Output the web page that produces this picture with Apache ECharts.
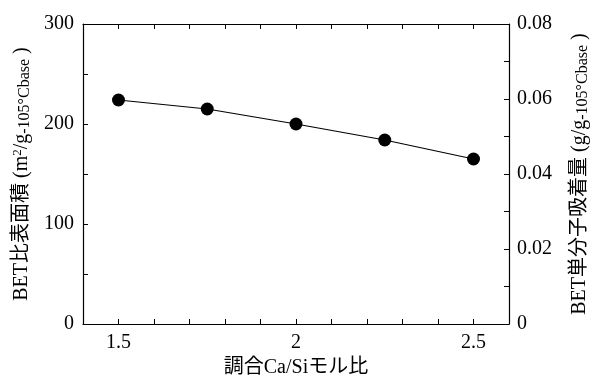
<!DOCTYPE html>
<html><head><meta charset="utf-8">
<script src="https://cdn.jsdelivr.net/npm/echarts@6/dist/echarts.min.js"></script>
<style>html,body{margin:0;padding:0;background:#fff}#c{width:598px;height:383px}</style>
</head><body><div id="c"></div>
<script>
var caSiRatio = [1.5, 1.75, 2.0, 2.25, 2.5];
var betSurface = [224, 215, 200, 184, 165];
var xLabels = [1.5, 2, 2.5];
var serif = '"Liberation Serif", "Times New Roman", "Noto Sans CJK JP", serif';
var chart = echarts.init(document.getElementById('c'));
var tickStyle = {show: true, inside: true, length: 5, lineStyle: {color: '#000', width: 1}};
var axLine = {show: true, onZero: false, lineStyle: {color: '#000', width: 1.2}};
function xFmt(v) {
  for (var i = 0; i < xLabels.length; i++) if (Math.abs(v - xLabels[i]) < 1e-6) return String(xLabels[i]);
  return '';
}
var richName = {
  a: {fontFamily: serif, fontSize: 20, color: '#000', lineHeight: 22},
  s: {fontFamily: serif, fontSize: 13, color: '#000', verticalAlign: 'top', lineHeight: 22},
  b: {fontFamily: serif, fontSize: 16, color: '#000', verticalAlign: 'bottom', lineHeight: 18}
};
chart.setOption({
  animation: false,
  grid: {left: 83, right: 89, top: 24, bottom: 59, containLabel: false, outerBoundsMode: 'none'},
  xAxis: [{
    type: 'value', min: 1.4, max: 2.6, interval: 0.1,
    axisLine: axLine, axisTick: tickStyle, splitLine: {show: false},
    axisLabel: {formatter: xFmt, color: '#000', fontFamily: serif, fontSize: 20, margin: 9, showMinLabel: true, showMaxLabel: true},
    name: '調合Ca/Siモル比', nameLocation: 'middle', nameGap: 34,
    nameTextStyle: {color: '#000', fontFamily: serif, fontSize: 20}
  }, {
    type: 'value', position: 'top', min: 1.4, max: 2.6, interval: 0.1,
    axisLine: axLine, axisTick: tickStyle, axisLabel: {show: false}, splitLine: {show: false}
  }],
  yAxis: [{
    type: 'value', min: 0, max: 300, interval: 100,
    axisLine: axLine, axisTick: tickStyle, splitLine: {show: false},
    minorTick: {show: true, splitNumber: 2, length: 5, lineStyle: {color: '#000'}},
    axisLabel: {color: '#000', fontFamily: serif, fontSize: 20, margin: 9},
    name: '{a|BET比表面積 (m}{s|2}{a|/g}{b|-105°Cbase}{a| )}', nameLocation: 'middle', nameGap: 49,
    nameTextStyle: {color: '#000', fontFamily: serif, fontSize: 20, rich: richName}
  }, {
    type: 'value', position: 'right', min: 0, max: 0.08, interval: 0.02,
    axisLine: axLine, axisTick: tickStyle, splitLine: {show: false},
    minorTick: {show: true, splitNumber: 2, length: 5, lineStyle: {color: '#000'}},
    axisLabel: {color: '#000', fontFamily: serif, fontSize: 20, margin: 8,
      formatter: function (v) { return v === 0 ? '0' : v.toFixed(2); }},
    name: '{a|BET単分子吸着量 (g/g}{b|-105°Cbase}{a| )}', nameLocation: 'middle', nameGap: 60, nameRotate: 90,
    nameTextStyle: {color: '#000', fontFamily: serif, fontSize: 20, rich: richName}
  }],
  series: [{
    type: 'line',
    data: caSiRatio.map(function (x, i) { return [x, betSurface[i]]; }),
    symbol: 'circle', symbolSize: 13,
    itemStyle: {color: '#000'},
    lineStyle: {color: '#000', width: 1.2}
  }]
});
</script></body></html>
